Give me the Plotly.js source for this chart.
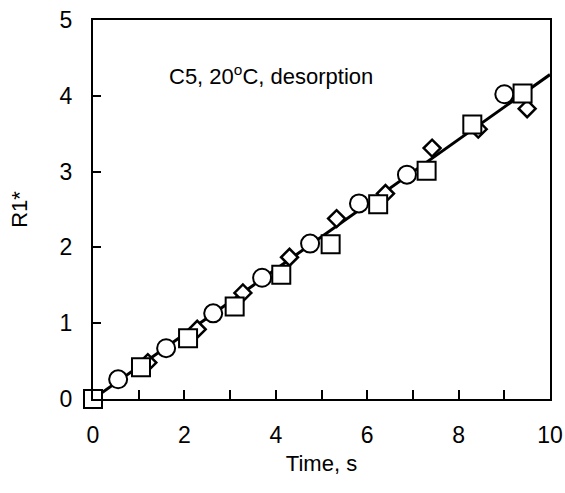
<!DOCTYPE html>
<html><head><meta charset="utf-8">
<script src="https://cdn.plot.ly/plotly-3.0.1.min.js"></script>
<style>html,body{margin:0;padding:0;background:#fff}#chart{width:565px;height:493px}</style>
</head><body><div id="chart"></div>
<script>
const circleX = [0, 0.55, 1.6, 2.63, 3.7, 4.75, 5.82, 6.87, 9.0];
const circleY = [0, 0.26, 0.67, 1.13, 1.6, 2.05, 2.58, 2.96, 4.02];
const squareX = [0, 1.05, 2.08, 3.1, 4.12, 5.2, 6.24, 7.3, 8.3, 9.4];
const squareY = [0, 0.42, 0.8, 1.22, 1.64, 2.04, 2.57, 3.01, 3.62, 4.03];
const diamondX = [0, 1.2, 2.28, 3.28, 4.3, 5.33, 6.4, 7.42, 8.43, 9.5];
const diamondY = [0, 0.48, 0.92, 1.4, 1.87, 2.38, 2.71, 3.31, 3.56, 3.83];
const fitX = [0, 10];
const fitY = [0, 4.28];
const xTicks = [0, 2, 4, 6, 8, 10];
const yTicks = [0, 1, 2, 3, 4, 5];

const mk = (sym, size, w) => ({symbol: sym, size: size, color: '#fff', line: {color: '#000', width: w}});
const data = [
  {x: fitX, y: fitY, mode: 'lines', line: {color: '#000', width: 3}, hoverinfo: 'skip', cliponaxis: false},
  {x: diamondX, y: diamondY, mode: 'markers', marker: mk('diamond', 13, 2.5), cliponaxis: false},
  {x: circleX, y: circleY, mode: 'markers', marker: mk('circle', 18, 2), cliponaxis: false},
  {x: squareX, y: squareY, mode: 'markers', marker: mk('square', 18, 2), cliponaxis: false}
];
const fam = 'Liberation Sans, Arial, sans-serif';
const layout = {
  width: 565, height: 493, showlegend: false,
  paper_bgcolor: '#fff', plot_bgcolor: '#fff',
  margin: {l: 93, r: 15, t: 20, b: 94},
  font: {family: fam, color: '#000'},
  xaxis: {
    range: [0, 10], tickvals: xTicks,
    ticks: 'inside', ticklen: 9, tickwidth: 2, tickcolor: '#000',
    minor: {dtick: 1, tick0: 0, ticks: 'inside', ticklen: 9, tickwidth: 2, tickcolor: '#000', showgrid: false},
    showline: true, linewidth: 2, linecolor: '#000', mirror: true,
    showgrid: false, zeroline: false, ticklabelstandoff: 14,
    tickfont: {size: 23, family: fam, color: '#000'},
    title: {text: 'Time, s', font: {size: 22, family: fam, color: '#000'}, standoff: 9}
  },
  yaxis: {
    range: [0, 5], tickvals: yTicks,
    ticks: 'inside', ticklen: 8, tickwidth: 2, tickcolor: '#000',
    showline: true, linewidth: 2, linecolor: '#000', mirror: true,
    showgrid: false, zeroline: false, ticklabelstandoff: 14,
    tickfont: {size: 23, family: fam, color: '#000'},
    title: {text: 'R1*', font: {size: 22, family: fam, color: '#000'}, standoff: 26}
  },
  annotations: [{
    x: 3.9, y: 4.28, xref: 'x', yref: 'y', showarrow: false,
    text: 'C5, 20<sup>o</sup>C, desorption',
    font: {size: 22, family: fam, color: '#000'}
  }]
};
Plotly.newPlot('chart', data, layout, {displayModeBar: false, staticPlot: true});
</script></body></html>
